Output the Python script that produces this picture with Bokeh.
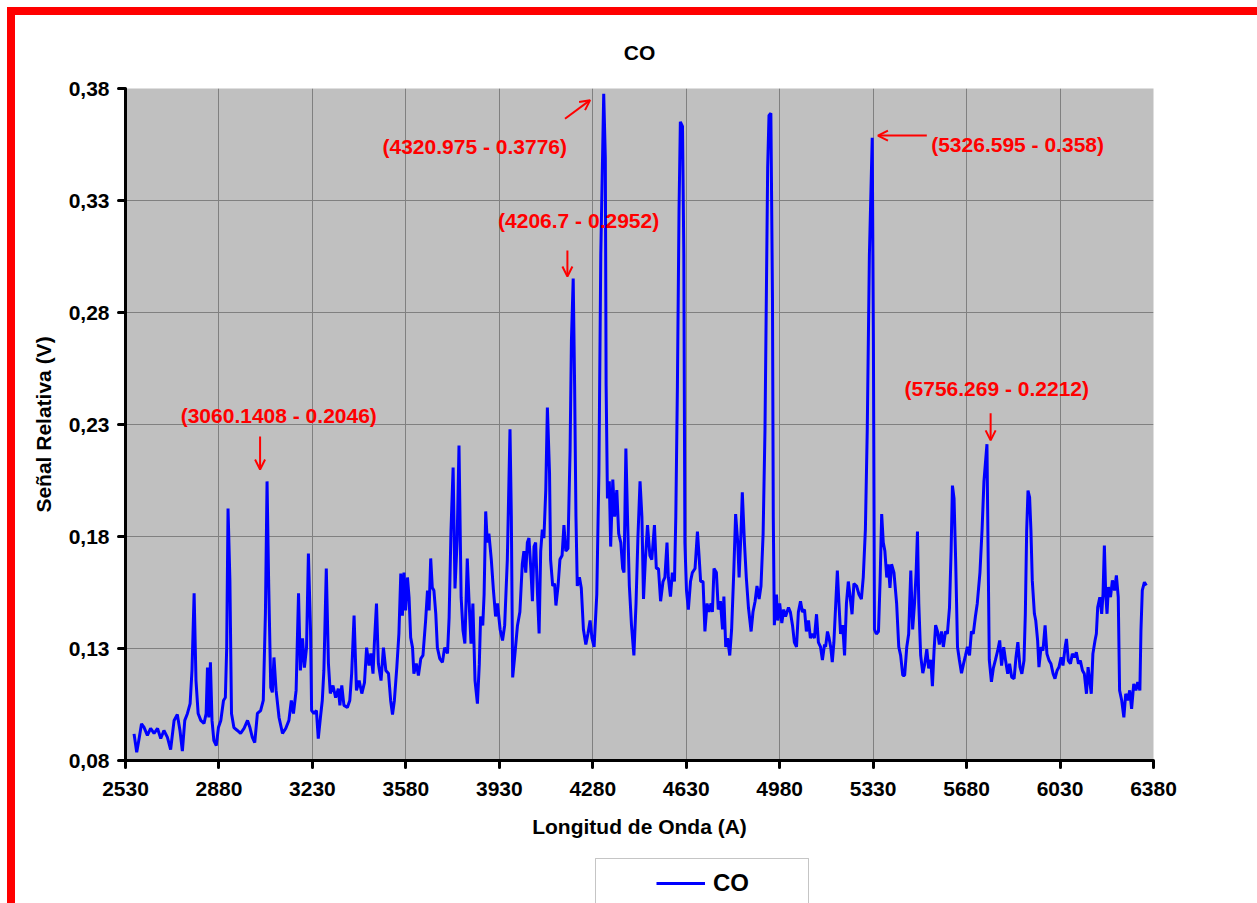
from bokeh.plotting import figure
from bokeh.layouts import column
from bokeh.models import (FixedTicker, CustomJSTickFormatter, Arrow, BoxAnnotation,
                          OpenHead, Legend, LegendItem, ColumnDataSource)
from bokeh.embed import file_html
from bokeh.resources import INLINE
from bokeh.core.properties import value

# ---------------------------------------------------------------------------
# CO emission spectrum: wavelength (A) and relative signal (V)
# ---------------------------------------------------------------------------
wavelength = [
    2562, 2572, 2581, 2590, 2599, 2612, 2624, 2637, 2650, 2662, 2674, 2687, 2699, 2712, 2724, 2734,
    2743, 2752, 2762, 2772, 2779, 2787, 2794, 2802, 2812, 2824, 2832, 2837, 2842, 2848, 2854, 2861,
    2870, 2878, 2887, 2897, 2904, 2909, 2914, 2921, 2927, 2936, 2949, 2961, 2974, 2987, 2996, 3005,
    3014, 3024, 3036, 3046, 3054, 3066, 3074, 3080, 3086, 3094, 3105, 3118, 3130, 3142, 3151, 3159,
    3169, 3178, 3185, 3193, 3200, 3208, 3215, 3223, 3227, 3236, 3245, 3252, 3260, 3267, 3273, 3282,
    3290, 3297, 3307, 3317, 3327, 3333, 3340, 3348, 3361, 3370, 3377, 3386, 3395, 3405, 3415, 3425,
    3433, 3442, 3449, 3457, 3462, 3470, 3477, 3487, 3496, 3505, 3515, 3523, 3530, 3537, 3546, 3554,
    3561, 3567, 3573, 3579, 3586, 3592, 3598, 3605, 3610, 3619, 3627, 3636, 3644, 3654, 3661, 3667,
    3673, 3679, 3685, 3692, 3698, 3707, 3717, 3725, 3736, 3742, 3749, 3757, 3764, 3772, 3779, 3787,
    3794, 3801, 3810, 3816, 3824, 3831, 3839, 3848, 3855, 3860, 3868, 3873, 3879, 3885, 3891, 3900,
    3908, 3916, 3923, 3933, 3942, 3950, 3960, 3970, 3975, 3980, 3988, 3998, 4007, 4016, 4022, 4029,
    4035, 4041, 4048, 4054, 4060, 4066, 4073, 4079, 4085, 4091, 4097, 4104, 4110, 4118, 4122, 4130,
    4137, 4142, 4150, 4157, 4165, 4172, 4179, 4187, 4195, 4200, 4212, 4217, 4222, 4230, 4237, 4245,
    4254, 4262, 4270, 4277, 4285, 4295, 4303, 4310, 4327, 4330, 4335, 4342, 4347, 4355, 4362, 4370,
    4377, 4385, 4392, 4397, 4404, 4410, 4417, 4425, 4434, 4442, 4449, 4457, 4464, 4470, 4477, 4485,
    4494, 4501, 4511, 4518, 4526, 4534, 4543, 4550, 4558, 4563, 4571, 4578, 4586, 4591, 4597, 4603,
    4608, 4616, 4621, 4625, 4631, 4638, 4646, 4653, 4663, 4672, 4678, 4684, 4693, 4700, 4708, 4715,
    4723, 4728, 4734, 4743, 4750, 4758, 4766, 4771, 4778, 4785, 4793, 4800, 4808, 4815, 4823, 4828,
    4835, 4840, 4848, 4855, 4863, 4873, 4880, 4888, 4895, 4903, 4910, 4918, 4925, 4930, 4935, 4940,
    4947, 4953, 4956, 4960, 4968, 4973, 4980, 4988, 4995, 5002, 5013, 5020, 5028, 5035, 5043, 5050,
    5058, 5065, 5073, 5080, 5088, 5095, 5103, 5110, 5118, 5125, 5133, 5140, 5148, 5152, 5159, 5165,
    5171, 5177, 5183, 5190, 5196, 5202, 5208, 5216, 5223, 5230, 5237, 5243, 5251, 5258, 5268, 5277,
    5286, 5293, 5301, 5308, 5316, 5331, 5335, 5342, 5350, 5356, 5362, 5368, 5374, 5381, 5387, 5393,
    5399, 5408, 5418, 5426, 5433, 5441, 5448, 5456, 5463, 5471, 5478, 5485, 5491, 5496, 5501, 5508,
    5516, 5523, 5531, 5538, 5546, 5552, 5558, 5564, 5571, 5578, 5586, 5593, 5601, 5608, 5616, 5622,
    5627, 5633, 5639, 5646, 5653, 5661, 5668, 5676, 5683, 5691, 5698, 5705, 5713, 5720, 5730, 5738,
    5745, 5760, 5765, 5773, 5780, 5788, 5796, 5804, 5811, 5819, 5826, 5834, 5841, 5849, 5858, 5865,
    5872, 5880, 5887, 5895, 5900, 5905, 5910, 5916, 5921, 5926, 5934, 5939, 5946, 5951, 5959, 5966,
    5974, 5981, 5989, 5996, 6004, 6011, 6019, 6026, 6034, 6041, 6049, 6054, 6061, 6069, 6076, 6084,
    6091, 6099, 6106, 6114, 6121, 6129, 6135, 6141, 6147, 6153, 6161, 6166, 6171, 6179, 6186, 6191,
    6196, 6201, 6206, 6211, 6219, 6226, 6234, 6241, 6248, 6253, 6261, 6269, 6276, 6283, 6291, 6298,
    6306, 6314, 6321, 6329, 6333, 6338, 6346, 6353,
]

signal = [
    0.0919, 0.0837, 0.0898, 0.0964, 0.0949, 0.0912, 0.0943, 0.0921, 0.0943, 0.0898, 0.0934, 0.0903, 0.0849, 0.0979, 0.1005, 0.0934,
    0.0842, 0.0979, 0.1010, 0.1054, 0.1202, 0.1546, 0.1157, 0.1010, 0.0979, 0.0965, 0.1010, 0.1215, 0.0992, 0.1238, 0.0979, 0.0889,
    0.0867, 0.0947, 0.0979, 0.1068, 0.1081, 0.1304, 0.1925, 0.1604, 0.1010, 0.0947, 0.0934, 0.0921, 0.0943, 0.0979, 0.0947, 0.0903,
    0.0880, 0.1010, 0.1023, 0.1068, 0.1456, 0.1604, 0.1126, 0.1104, 0.1260, 0.1113, 0.0992, 0.0921, 0.0943, 0.0979, 0.1068, 0.1010,
    0.1113, 0.1546, 0.1202, 0.1345, 0.1215, 0.1304, 0.1724, 0.1380, 0.1023, 0.1010, 0.1023, 0.0898, 0.0992, 0.1068, 0.1202, 0.1657,
    0.1233, 0.1099, 0.1135, 0.1081, 0.1121, 0.1046, 0.1135, 0.1046, 0.1037, 0.1068, 0.1188, 0.1447, 0.1113, 0.1157, 0.1099, 0.1148,
    0.1304, 0.1224, 0.1278, 0.1188, 0.1322, 0.1501, 0.1233, 0.1157, 0.1304, 0.1202, 0.1188, 0.1068, 0.1005, 0.1068, 0.1215, 0.1367,
    0.1635, 0.1447, 0.1639, 0.1470, 0.1617, 0.1528, 0.1349, 0.1304, 0.1188, 0.1233, 0.1179, 0.1255, 0.1269, 0.1425, 0.1559, 0.1470,
    0.1702, 0.1572, 0.1559, 0.1456, 0.1304, 0.1255, 0.1238, 0.1304, 0.1278, 0.1438, 0.1827, 0.2108, 0.1568, 0.1782, 0.2206, 0.1528,
    0.1380, 0.1322, 0.1702, 0.1528, 0.1322, 0.1501, 0.1157, 0.1054, 0.1229, 0.1443, 0.1403, 0.1541, 0.1912, 0.1773, 0.1813, 0.1697,
    0.1559, 0.1443, 0.1501, 0.1385, 0.1336, 0.1403, 0.1697, 0.2279, 0.1889, 0.1171, 0.1269, 0.1403, 0.1463, 0.1676, 0.1735, 0.1639,
    0.1773, 0.1793, 0.1657, 0.1511, 0.1755, 0.1773, 0.1541, 0.1367, 0.1735, 0.1831, 0.1793, 0.2007, 0.2376, 0.2086, 0.1697, 0.1579,
    0.1590, 0.1492, 0.1579, 0.1697, 0.1715, 0.1851, 0.1735, 0.1746, 0.2184, 0.2671, 0.2474, 0.1890, 0.1579, 0.1618, 0.1570, 0.1385,
    0.1318, 0.1367, 0.1425, 0.1346, 0.1307, 0.1541, 0.2086, 0.3059, 0.3488, 0.2474, 0.1970, 0.2046, 0.1755, 0.2054, 0.1889, 0.2007,
    0.1813, 0.1773, 0.1657, 0.1639, 0.2193, 0.1890, 0.1579, 0.1404, 0.1269, 0.1501, 0.1793, 0.2046, 0.1889, 0.1521, 0.1697, 0.1851,
    0.1715, 0.1697, 0.1851, 0.1657, 0.1657, 0.1511, 0.1599, 0.1617, 0.1773, 0.1617, 0.1532, 0.1639, 0.1599, 0.1891, 0.2474, 0.3252,
    0.3651, 0.3631, 0.3059, 0.1773, 0.1559, 0.1474, 0.1599, 0.1639, 0.1657, 0.1822, 0.1715, 0.1599, 0.1599, 0.1376, 0.1501, 0.1463,
    0.1501, 0.1463, 0.1657, 0.1639, 0.1474, 0.1511, 0.1385, 0.1532, 0.1307, 0.1346, 0.1269, 0.1385, 0.1639, 0.1900, 0.1773, 0.1617,
    0.1813, 0.1997, 0.1773, 0.1617, 0.1483, 0.1376, 0.1463, 0.1511, 0.1579, 0.1521, 0.1579, 0.1813, 0.2279, 0.2863, 0.3447, 0.3680,
    0.3690, 0.2863, 0.1891, 0.1404, 0.1541, 0.1425, 0.1501, 0.1414, 0.1474, 0.1443, 0.1483, 0.1463, 0.1404, 0.1327, 0.1307, 0.1463,
    0.1511, 0.1463, 0.1474, 0.1376, 0.1425, 0.1346, 0.1365, 0.1346, 0.1453, 0.1327, 0.1307, 0.1249, 0.1318, 0.1307, 0.1376, 0.1346,
    0.1307, 0.1239, 0.1327, 0.1501, 0.1648, 0.1501, 0.1365, 0.1404, 0.1269, 0.1501, 0.1599, 0.1541, 0.1453, 0.1590, 0.1579, 0.1541,
    0.1521, 0.1617, 0.1832, 0.2279, 0.3059, 0.2671, 0.1385, 0.1365, 0.1376, 0.1599, 0.1900, 0.1773, 0.1735, 0.1617, 0.1676, 0.1570,
    0.1676, 0.1639, 0.1501, 0.1307, 0.1269, 0.1180, 0.1180, 0.1307, 0.1365, 0.1648, 0.1385, 0.1501, 0.1639, 0.1822, 0.1501, 0.1269,
    0.1190, 0.1229, 0.1297, 0.1211, 0.1249, 0.1132, 0.1288, 0.1404, 0.1376, 0.1318, 0.1376, 0.1307, 0.1376, 0.1365, 0.1483, 0.1735,
    0.2027, 0.1970, 0.1697, 0.1307, 0.1249, 0.1190, 0.1229, 0.1269, 0.1307, 0.1269, 0.1376, 0.1365, 0.1443, 0.1501, 0.1639, 0.1832,
    0.2046, 0.1793, 0.1249, 0.1151, 0.1211, 0.1249, 0.1288, 0.1336, 0.1224, 0.1306, 0.1246, 0.1187, 0.1232, 0.1172, 0.1165, 0.1261,
    0.1328, 0.1217, 0.1187, 0.1246, 0.1455, 0.1827, 0.2005, 0.1975, 0.1827, 0.1604, 0.1455, 0.1425, 0.1336, 0.1217, 0.1306, 0.1291,
    0.1403, 0.1276, 0.1246, 0.1232, 0.1187, 0.1165, 0.1202, 0.1217, 0.1261, 0.1224, 0.1306, 0.1343, 0.1246, 0.1232, 0.1276, 0.1261,
    0.1283, 0.1232, 0.1246, 0.1202, 0.1187, 0.1098, 0.1217, 0.1157, 0.1098, 0.1276, 0.1336, 0.1366, 0.1484, 0.1529, 0.1455, 0.1544,
    0.1760, 0.1544, 0.1455, 0.1574, 0.1529, 0.1604, 0.1559, 0.1626, 0.1529, 0.1113, 0.1068, 0.0993, 0.1098, 0.1068, 0.1113, 0.1031,
    0.1142, 0.1113, 0.1150, 0.1113, 0.1380, 0.1559, 0.1596, 0.1581,
]

# Labelled maxima (wavelength, signal)
peak_wl = [3060.1408, 4206.7, 4320.975, 5326.595, 5756.269]
peak_sig = [0.2046, 0.2952, 0.3776, 0.358, 0.2212]

x_ticks = [2530, 2880, 3230, 3580, 3930, 4280, 4630, 4980, 5330, 5680, 6030, 6380]
y_ticks = [0.08, 0.13, 0.18, 0.23, 0.28, 0.33, 0.38]

# merge the labelled maxima into the measured series
pts = sorted(zip(wavelength + peak_wl, signal + peak_sig))
spec_x = [a for a, _ in pts]
spec_y = [b for _, b in pts]

FONT = "Liberation Sans"
BLUE = "#0000FF"
RED = "#FF0000"

p = figure(width=1242, height=840, output_backend="svg", toolbar_location=None,
           x_range=(2530, 6380), y_range=(0.08, 0.38),
           min_border_left=110, min_border_right=104, min_border_top=73,
           min_border_bottom=95)

p.background_fill_color = "#C0C0C0"
p.border_fill_color = "white"
p.outline_line_color = None

# title
p.title.text = "CO"
p.title.align = "center"
p.title.vertical_align = "top"
p.title.text_font = FONT
p.title.text_font_size = "21px"
p.title.text_font_style = "bold"
p.title.text_color = "black"
p.title.standoff = 46

# axes
p.xaxis.ticker = FixedTicker(ticks=x_ticks)
p.yaxis.ticker = FixedTicker(ticks=y_ticks)
p.xaxis.formatter = CustomJSTickFormatter(code="return tick.toFixed(0);")
p.yaxis.formatter = CustomJSTickFormatter(code="return tick.toFixed(2).replace('.', ',');")
p.xaxis.axis_label = "Longitud de Onda (A)"
p.yaxis.axis_label = "Señal Relativa (V)"
for ax in (p.xaxis, p.yaxis):
    ax.axis_line_color = "black"
    ax.axis_line_width = 3
    ax.major_tick_line_color = "black"
    ax.major_tick_line_width = 3
    ax.major_tick_line_cap = "round"
    ax.major_tick_out = 7
    ax.major_tick_in = 0
    ax.minor_tick_line_color = None
    ax.major_label_text_font = FONT
    ax.major_label_text_font_size = "21px"
    ax.major_label_text_font_style = "bold"
    ax.major_label_text_color = "black"
    ax.axis_label_text_font = FONT
    ax.axis_label_text_font_size = "21px"
    ax.axis_label_text_font_style = "bold"
    ax.axis_label_text_color = "black"
p.xaxis.major_label_standoff = 14
p.xaxis.axis_label_standoff = 16
p.yaxis.major_label_standoff = 9
p.yaxis.axis_label_standoff = 11

# grid
for g in (p.xgrid, p.ygrid):
    g.grid_line_color = "#808080"
    g.grid_line_width = 1

# spectrum
p.line(spec_x, spec_y, line_color=BLUE, line_width=3)

# peak annotations
lbl_x = [3104, 4227, 3838, 5871, 5793]
lbl_y = [0.2340, 0.3211, 0.3541, 0.3550, 0.2461]
lbl_txt = [f"({w} - {s})" for w, s in zip(peak_wl, peak_sig)]
p.text(x="x", y="y", text="t",
       source=ColumnDataSource(dict(x=lbl_x, y=lbl_y, t=lbl_txt)),
       text_font=value(FONT), text_font_size="21px", text_font_style="bold",
       text_color=RED, text_align="center", text_baseline="middle")

arrows = [
    (3034, 0.2246, 3034, 0.2099),
    (4185, 0.3077, 4185, 0.2961),
    (4176, 0.3665, 4270, 0.3748),
    (5531, 0.3590, 5348, 0.3590),
    (5770, 0.2350, 5770, 0.2229),
]
for xs, ys, xe, ye in arrows:
    p.add_layout(Arrow(x_start=xs, y_start=ys, x_end=xe, y_end=ye,
                       line_color=RED, line_width=2,
                       end=OpenHead(size=10, line_color=RED, line_width=2)))

# legend strip below the chart (its frame lines up with the chart frame)
lf = figure(width=1242, height=48, output_backend="svg", toolbar_location=None,
            x_axis_type=None, y_axis_type=None, min_border=0,
            x_range=(0, 1), y_range=(0, 1))
lf.grid.visible = False
lf.outline_line_color = None
lf.background_fill_color = "white"
lf.border_fill_color = "white"
# legend key only: a single vertex draws no visible segment
key = lf.line([0.5], [0.5], line_color=BLUE, line_width=3)
lf.add_layout(Legend(items=[LegendItem(label="CO", renderers=[key])],
                     location=(521, -4), padding=10, margin=0,
                     glyph_width=49, label_standoff=8,
                     label_text_font=FONT, label_text_font_size="24px",
                     label_text_font_style="bold", label_text_color="black",
                     border_line_alpha=0, background_fill_alpha=0))
lf.add_layout(BoxAnnotation(left=580, right=793, top=3, bottom=120,
                            left_units="canvas", right_units="canvas",
                            top_units="canvas", bottom_units="canvas",
                            fill_alpha=0, line_color="#404040", line_width=1))

layout = column(p, lf, spacing=0)
# red page frame on the top and left edges
layout.styles = {"box-sizing": "content-box", "margin-left": "7px", "margin-top": "7px",
                 "border-left": "8px solid #FF0000", "border-top": "8px solid #FF0000"}

open("out.html", "w").write(file_html(layout, INLINE))
